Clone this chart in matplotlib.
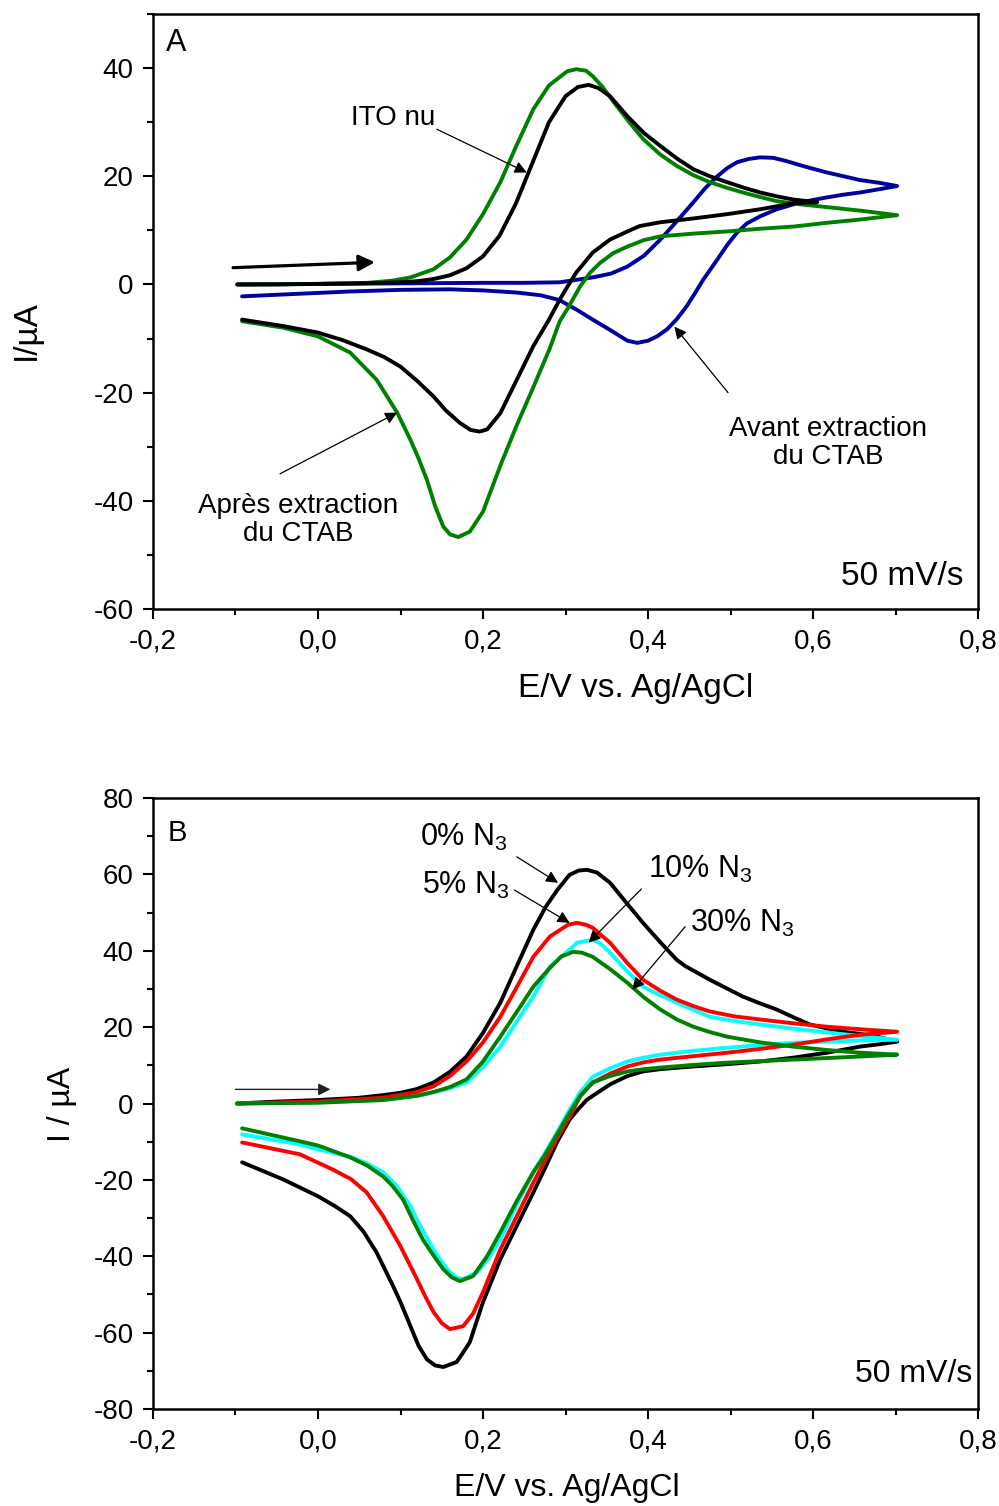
import matplotlib
matplotlib.use("Agg")
import matplotlib.pyplot as plt
from matplotlib.ticker import MultipleLocator, FuncFormatter

plt.rcParams['font.family'] = ['Liberation Sans', 'DejaVu Sans']
plt.rcParams['mathtext.fontset'] = 'custom'
plt.rcParams['mathtext.rm'] = 'Liberation Sans'
plt.rcParams['mathtext.it'] = 'Liberation Sans:italic'
plt.rcParams['axes.unicode_minus'] = False

# ---- panel A : ITO nu / avant / apres extraction du CTAB ----
ito_E = [-0.098, -0.05, 0.0, 0.05, 0.1, 0.12, 0.14, 0.16, 0.18, 0.2, 0.22, 0.24, 0.26, 0.28,
         0.30, 0.315, 0.328, 0.34, 0.354, 0.375, 0.395, 0.415, 0.435, 0.455, 0.475, 0.496,
         0.516, 0.536, 0.556, 0.576, 0.605,
         0.576, 0.536, 0.496, 0.455, 0.415, 0.39, 0.375, 0.354, 0.333, 0.313, 0.302, 0.293,
         0.28, 0.261, 0.241, 0.221, 0.205, 0.196, 0.185, 0.172, 0.155, 0.14, 0.12, 0.1,
         0.08, 0.059, 0.03, 0.0, -0.042, -0.092]
ito_I = [0.0, 0.0, 0.1, 0.2, 0.4, 0.6, 1.0, 1.7, 3.0, 5.2, 9.0, 15.0, 22.5, 30.0,
         34.8, 36.5, 36.9, 36.3, 34.8, 31.1, 28.0, 25.6, 23.3, 21.3, 20.0, 18.9,
         17.9, 17.0, 16.3, 15.7, 15.2,
         15.0, 13.9, 13.0, 12.2, 11.5, 10.8, 9.8, 8.3, 5.9, 2.2, -0.5, -2.8,
         -6.5, -11.4, -17.6, -23.8, -26.8, -27.2, -26.9, -25.6, -23.3, -20.7, -17.8, -15.2,
         -13.4, -12.0, -10.3, -8.9, -7.7, -6.5]

apres_E = [-0.098, 0.0, 0.06, 0.09, 0.112, 0.14, 0.16, 0.18, 0.2, 0.221, 0.24, 0.261, 0.28,
           0.302, 0.313, 0.325, 0.333, 0.345, 0.362, 0.38, 0.394, 0.415, 0.435, 0.455, 0.475,
           0.495, 0.515, 0.535, 0.556, 0.585, 0.617, 0.66, 0.702,
           0.657, 0.617, 0.576, 0.536, 0.496, 0.455, 0.415, 0.395, 0.375, 0.358, 0.342, 0.33,
           0.318, 0.302, 0.293, 0.281, 0.261, 0.241, 0.221, 0.2, 0.184, 0.17, 0.16, 0.152,
           0.142, 0.132, 0.122, 0.112, 0.096, 0.071, 0.039, 0.0, -0.042, -0.092]
apres_I = [0.0, 0.1, 0.3, 0.7, 1.3, 2.8, 5.0, 8.3, 13.0, 18.9, 25.5, 32.4, 36.8,
           39.4, 39.8, 39.5, 38.5, 36.5, 33.0, 29.5, 26.9, 24.0, 21.9, 20.2, 18.9,
           17.9, 17.0, 16.2, 15.4, 14.8, 14.3, 13.6, 12.8,
           12.0, 11.4, 10.7, 10.3, 9.8, 9.4, 8.9, 8.2, 7.0, 5.8, 4.0, 2.2,
           -0.3, -4.6, -6.8, -11.8, -19.0, -26.0, -33.5, -42.0, -45.7, -46.7, -46.2, -44.8,
           -41.0, -36.1, -32.2, -28.7, -23.7, -17.6, -12.6, -9.6, -8.0, -6.8]

avant_E = [-0.095, 0.0, 0.1, 0.2, 0.25, 0.293, 0.333, 0.355, 0.375, 0.395, 0.415, 0.435,
           0.455, 0.47, 0.484, 0.496, 0.508, 0.522, 0.536, 0.552, 0.568, 0.59, 0.617, 0.637,
           0.657, 0.68, 0.702,
           0.68, 0.657, 0.637, 0.617, 0.596, 0.576, 0.556, 0.536, 0.52, 0.508, 0.496, 0.484,
           0.467, 0.457, 0.447, 0.435, 0.423, 0.411, 0.4, 0.387, 0.375, 0.355, 0.333, 0.315,
           0.302, 0.293, 0.27, 0.241, 0.2, 0.16, 0.1, 0.039, -0.02, -0.092]
avant_I = [0.0, 0.1, 0.2, 0.3, 0.3, 0.4, 1.3, 2.0, 3.3, 5.3, 8.3, 11.7,
           15.2, 17.9, 20.0, 21.5, 22.6, 23.2, 23.5, 23.4, 22.8, 21.8, 20.7, 20.0,
           19.3, 18.8, 18.2,
           17.6, 17.0, 16.6, 16.1, 15.5, 14.8, 13.9, 12.6, 11.3, 9.6, 7.3, 4.6,
           0.9, -1.6, -4.0, -6.4, -8.3, -9.6, -10.4, -10.8, -10.4, -8.5, -6.5, -4.8,
           -3.7, -2.9, -2.0, -1.5, -1.1, -0.9, -1.0, -1.3, -1.7, -2.2]

# ---- panel B : % N3 ----
n0_E = [-0.098, -0.05, 0.0, 0.05, 0.079, 0.1, 0.12, 0.14, 0.16, 0.18, 0.2, 0.221, 0.241,
        0.261, 0.276, 0.29, 0.305, 0.316, 0.326, 0.338, 0.354, 0.374, 0.394, 0.415, 0.435,
        0.445, 0.455, 0.475, 0.495, 0.515, 0.536, 0.556, 0.576, 0.596, 0.616, 0.636, 0.658,
        0.678, 0.702,
        0.68, 0.657, 0.617, 0.576, 0.536, 0.496, 0.455, 0.415, 0.394, 0.375, 0.354, 0.34,
        0.326, 0.315, 0.305, 0.29, 0.275, 0.261, 0.241, 0.221, 0.2, 0.184, 0.175, 0.168,
        0.152, 0.142, 0.132, 0.122, 0.112, 0.1, 0.091, 0.071, 0.055, 0.039, 0.02, 0.0,
        -0.042, -0.092]
n0_I = [0.0, 0.5, 0.9, 1.5, 2.2, 2.8, 3.8, 5.5, 8.3, 12.3, 18.5, 26.4, 36.0,
        45.5, 51.5, 55.9, 59.9, 61.0, 61.2, 60.5, 57.8, 52.5, 47.3, 42.2, 37.6,
        36.0, 34.8, 32.4, 30.2, 28.0, 26.2, 24.6, 22.6, 20.7, 19.7, 18.8, 18.2,
        17.5, 16.2,
        15.5, 14.9, 13.3, 12.0, 11.0, 10.3, 9.7, 9.0, 8.4, 7.2, 5.0, 3.0,
        1.0, -1.6, -4.2, -10.0, -17.0, -23.3, -32.0, -40.8, -52.0, -62.5, -65.5, -67.7,
        -69.0, -68.6, -67.0, -63.5, -58.3, -52.0, -47.8, -39.0, -33.5, -29.5, -26.8, -24.3,
        -19.9, -15.4]

n5_E = [-0.098, 0.0, 0.079, 0.12, 0.14, 0.16, 0.18, 0.2, 0.221, 0.241, 0.261, 0.281, 0.303,
        0.314, 0.325, 0.333, 0.354, 0.374, 0.394, 0.415, 0.435, 0.455, 0.475, 0.505, 0.536,
        0.576, 0.617, 0.66, 0.702,
        0.657, 0.617, 0.576, 0.536, 0.496, 0.455, 0.415, 0.395, 0.375, 0.354, 0.333, 0.318,
        0.305, 0.29, 0.275, 0.261, 0.241, 0.221, 0.2, 0.188, 0.176, 0.16, 0.15, 0.14,
        0.13, 0.12, 0.1, 0.079, 0.059, 0.04, 0.018, -0.022, -0.092]
n5_I = [0.0, 0.5, 1.5, 3.0, 4.5, 7.2, 11.0, 16.0, 22.7, 30.5, 38.4, 43.7, 46.8,
        47.3, 46.8, 46.0, 42.1, 37.0, 32.4, 29.5, 27.2, 25.5, 24.1, 22.8, 22.0,
        21.0, 20.1, 19.4, 18.8,
        18.0, 16.8, 15.4, 14.3, 13.3, 12.4, 11.5, 10.8, 9.7, 7.8, 5.5, 2.0,
        -3.4, -9.0, -15.0, -20.7, -29.5, -38.2, -49.4, -55.0, -58.3, -59.1, -57.5, -54.6,
        -50.5, -46.0, -37.4, -29.5, -23.3, -19.8, -17.3, -13.3, -10.2]

n10_E = [-0.098, 0.0, 0.079, 0.12, 0.14, 0.16, 0.18, 0.2, 0.221, 0.241, 0.261, 0.281, 0.305,
         0.314, 0.333, 0.343, 0.354, 0.374, 0.394, 0.415, 0.435, 0.455, 0.475, 0.505, 0.536,
         0.576, 0.617, 0.66, 0.702,
         0.657, 0.617, 0.576, 0.536, 0.496, 0.455, 0.415, 0.395, 0.375, 0.354, 0.333, 0.318,
         0.305, 0.29, 0.275, 0.261, 0.241, 0.221, 0.207, 0.193, 0.176, 0.168, 0.16, 0.15,
         0.14, 0.125, 0.112, 0.095, 0.079, 0.06, 0.039, 0.0, -0.022, -0.092]
n10_I = [0.0, 0.3, 1.0, 2.0, 3.0, 4.0, 5.5, 9.5, 14.9, 21.5, 28.0, 35.8, 40.3,
         42.1, 42.9, 41.8, 39.5, 34.8, 30.6, 28.3, 26.4, 24.5, 22.7, 21.6, 20.7,
         19.6, 18.6, 17.6, 16.7,
         16.5, 16.2, 15.9, 15.3, 14.6, 13.8, 12.8, 12.0, 11.0, 9.2, 7.0, 3.0,
         -1.6, -7.5, -13.0, -18.0, -26.5, -35.6, -40.5, -44.2, -46.0, -45.6, -44.2, -41.5,
         -38.2, -32.5, -26.9, -21.5, -18.0, -15.8, -13.9, -12.0, -10.7, -8.1]

n30_E = [-0.098, 0.0, 0.079, 0.12, 0.14, 0.16, 0.18, 0.2, 0.221, 0.241, 0.261, 0.281, 0.295,
         0.309, 0.32, 0.333, 0.354, 0.375, 0.395, 0.415, 0.435, 0.455, 0.475, 0.496, 0.536,
         0.576, 0.617, 0.657, 0.702,
         0.657, 0.617, 0.576, 0.536, 0.496, 0.455, 0.415, 0.395, 0.375, 0.354, 0.333, 0.318,
         0.305, 0.29, 0.275, 0.261, 0.241, 0.221, 0.205, 0.188, 0.172, 0.162, 0.152, 0.14,
         0.127, 0.115, 0.103, 0.09, 0.079, 0.06, 0.039, 0.0, -0.022, -0.092]
n30_I = [0.0, 0.2, 0.9, 2.0, 3.0, 4.3, 6.3, 11.0, 17.5, 24.0, 30.6, 35.5, 38.5,
         39.7, 39.5, 38.4, 35.2, 31.6, 27.8, 24.6, 22.0, 20.1, 18.7, 17.5, 16.0,
         14.9, 14.0, 13.3, 12.8,
         12.3, 11.9, 11.5, 11.1, 10.7, 10.1, 9.4, 9.0, 8.4, 7.2, 5.5, 2.0,
         -2.4, -8.0, -13.5, -18.0, -25.5, -33.7, -40.0, -45.2, -46.5, -45.5, -43.4, -39.8,
         -35.6, -30.5, -25.1, -21.5, -19.1, -16.3, -14.1, -11.0, -9.9, -6.5]

xticks = [-0.2, 0.0, 0.2, 0.4, 0.6, 0.8]

W, H = 999, 1506
fig = plt.figure(figsize=(W / 100, H / 100), dpi=100)
axA = fig.add_axes([153 / W, 1 - 609 / H, 825 / W, 595 / H])
axB = fig.add_axes([153 / W, 1 - 1409 / H, 825 / W, 611 / H])

comma = FuncFormatter(lambda v, p: f"{v:.1f}".replace('.', ','))
for ax in (axA, axB):
    ax.set_xlim(-0.2, 0.8)
    ax.set_xticks(xticks)
    ax.xaxis.set_major_formatter(comma)
    ax.xaxis.set_minor_locator(MultipleLocator(0.1))
    ax.yaxis.set_major_locator(MultipleLocator(20))
    ax.yaxis.set_minor_locator(MultipleLocator(10))
    ax.tick_params(which='major', direction='out', length=7, width=1.5, labelsize=20, pad=7)
    ax.tick_params(which='minor', direction='out', length=4, width=1.5)
    for s in ax.spines.values():
        s.set_linewidth(1.8)

style = dict(lw=2.8, solid_joinstyle='round', solid_capstyle='round')
axA.plot(avant_E, avant_I, color='#0000a0', **style)
axA.plot(apres_E, apres_I, color='#008000', **style)
axA.plot(ito_E, ito_I, color='black', **style)
axA.set_ylim(-60, 50)
axA.set_yticks([-60, -40, -20, 0, 20, 40])
axA.set_xlabel('E/V vs. Ag/AgCl', fontsize=24)
axA.set_ylabel('I/µA', fontsize=24)
axA.xaxis.set_label_coords(0.585, -0.107)
axA.yaxis.set_label_coords(-0.135, 0.469)

thin = dict(arrowstyle='-|>', color='black', lw=0.9, mutation_scale=18, shrinkA=0, shrinkB=0)
axA.text(0.091, 30.7, 'ITO nu', fontsize=20, ha='center', va='center')
axA.annotate('', xy=(0.253, 20.7), xytext=(0.144, 28.7), arrowprops=thin)
axA.text(0.618, -29.3, 'Avant extraction\ndu CTAB', fontsize=20, ha='center', va='center',
         linespacing=1.1)
axA.annotate('', xy=(0.432, -7.8), xytext=(0.497, -20.0), arrowprops=thin)
axA.text(-0.024, -43.5, 'Après extraction\ndu CTAB', fontsize=20, ha='center', va='center',
         linespacing=1.1)
axA.annotate('', xy=(0.096, -23.7), xytext=(-0.046, -35.0), arrowprops=thin)
axA.annotate('', xy=(0.069, 4.1), xytext=(-0.103, 3.1),
             arrowprops=dict(arrowstyle='-|>', color='black', lw=2.3, mutation_scale=24,
                             shrinkA=0, shrinkB=0))
axA.text(0.016, 0.952, 'A', transform=axA.transAxes, fontsize=22, ha='left', va='center')
axA.text(0.982, 0.054, '50 mV/s', transform=axA.transAxes, fontsize=24, ha='right', va='center')

axB.plot(n0_E, n0_I, color='black', **style)
axB.plot(n10_E, n10_I, color='#00ffff', **style)
axB.plot(n5_E, n5_I, color='#ff0000', **style)
axB.plot(n30_E, n30_I, color='#008000', **style)
axB.set_ylim(-80, 80)
axB.set_xlabel('E/V vs. Ag/AgCl', fontsize=23)
axB.set_ylabel('I / µA', fontsize=23)
axB.xaxis.set_label_coords(0.502, -0.104)
axB.yaxis.set_label_coords(-0.092, 0.498)

axB.text(0.124, 69.8, '0% N$_3$', fontsize=22, ha='left', va='center')
axB.annotate('', xy=(0.291, 57.8), xytext=(0.241, 64.6), arrowprops=thin)
axB.text(0.126, 57.0, '5% N$_3$', fontsize=22, ha='left', va='center')
axB.annotate('', xy=(0.305, 47.3), xytext=(0.238, 55.9), arrowprops=thin)
axB.text(0.400, 61.4, '10% N$_3$', fontsize=22, ha='left', va='center')
axB.annotate('', xy=(0.328, 42.1), xytext=(0.392, 56.2), arrowprops=thin)
axB.text(0.451, 47.1, '30% N$_3$', fontsize=22, ha='left', va='center')
axB.annotate('', xy=(0.381, 29.8), xytext=(0.445, 46.3), arrowprops=thin)
axB.annotate('', xy=(0.015, 3.7), xytext=(-0.1, 3.7),
             arrowprops=dict(arrowstyle='-|>', color='#222222', lw=1.0, mutation_scale=18,
                             shrinkA=0, shrinkB=0))
axB.text(0.018, 0.943, 'B', transform=axB.transAxes, fontsize=21, ha='left', va='center')
axB.text(0.993, 0.057, '50 mV/s', transform=axB.transAxes, fontsize=23, ha='right', va='center')

fig.savefig('out.png', dpi=100)
